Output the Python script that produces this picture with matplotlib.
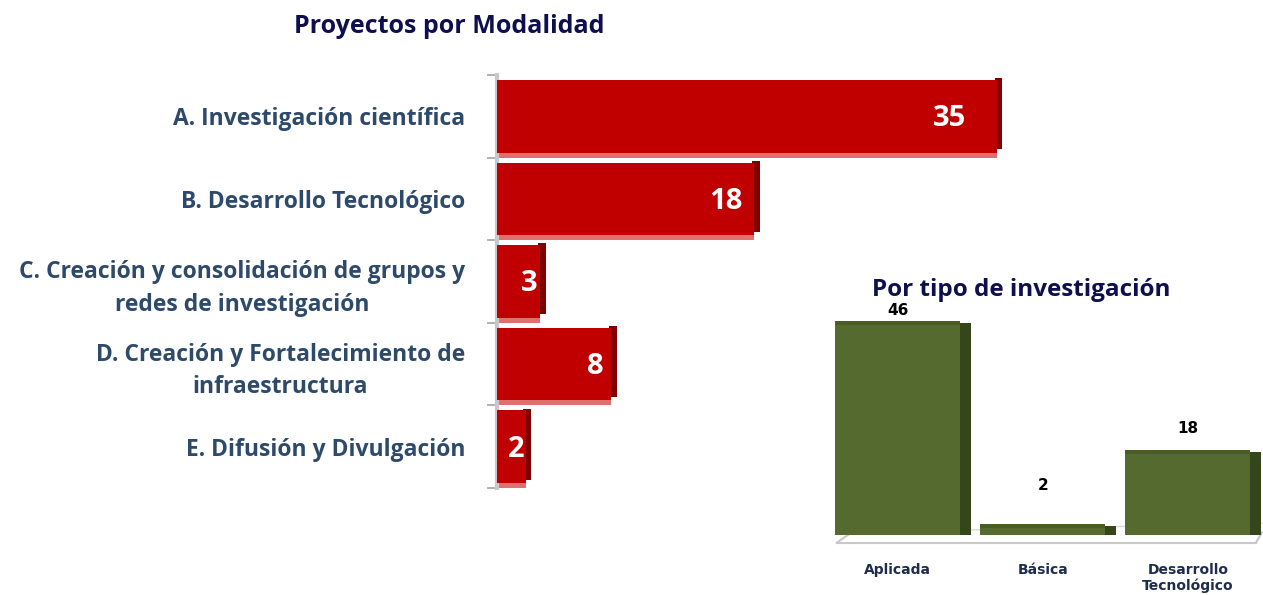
import matplotlib.pyplot as plt
import numpy as np

# data
modalidades = ["A. Investigación científica",
               "B. Desarrollo Tecnológico",
               "C. Creación y consolidación de grupos y\nredes de investigación",
               "D. Creación y Fortalecimiento de\ninfraestructura",
               "E. Difusión y Divulgación"]
proyectos = [35, 18, 3, 8, 2]

tipos = ["Aplicada", "Básica", "Desarrollo\nTecnológico"]
tipo_vals = [46, 2, 18]

plt.rcParams['font.family'] = ['Open Sans', 'DejaVu Sans']

fig = plt.figure(figsize=(12.63, 5.95), dpi=100)

# %% left chart
ax1 = fig.add_axes([0.3935, 0.18, 0.407, 0.694])
y = np.arange(len(proyectos))
vals = np.array(proyectos)
ax1.barh(y, vals, height=0.88, color="#c00000", zorder=3)
# darker side face and light bottom edge for the 3d look
ax1.barh(y - 0.03, 0.55, left=vals - 0.15, height=0.86, color="#800000", zorder=2)
ax1.barh(y + 0.47, vals, height=0.06, color="#e07070", zorder=2)
for yi, v in zip(y, vals):
    ax1.text(v - (0.5 + 0.08 * v), yi + 0.03, str(v), ha="center", va="center",
             color="white", fontsize=21, fontweight="bold", zorder=4)

ax1.set_xlim(0, 36)
ax1.set_ylim(4.5, -0.5)
ax1.set_yticks(y)
ax1.set_yticklabels(modalidades, fontsize=16.5, fontweight="bold", color="#2e4a6b",
                    multialignment="center", linespacing=1.45)
ax1.tick_params(axis="y", which="major", length=0, pad=23)
ax1.set_yticks(np.arange(-0.5, 5, 1), minor=True)
ax1.tick_params(axis="y", which="minor", length=7, color="#a6a6a6", width=1.2)
ax1.set_xticks([])
for s in ["top", "right", "bottom"]:
    ax1.spines[s].set_visible(False)
ax1.spines["left"].set_color("#c8c8c8")
ax1.spines["left"].set_linewidth(3)
fig.text(0.3555, 0.955, "Proyectos por Modalidad", ha="center", va="center",
         fontsize=18, fontweight="bold", color="#0f0f4f")

# %% right chart
ax2 = fig.add_axes([0.651, 0.101, 0.348, 0.395])
x = np.arange(len(tipo_vals))
tv = np.array(tipo_vals)
ax2.bar(x, tv, width=0.86, color="#556a2e", zorder=3)
ax2.bar(x + 0.46, tv + 0.3, width=0.09, bottom=-0.3, color="#35461a", zorder=2)
ax2.bar(x, 0.8, bottom=tv - 0.4, width=0.86, color="#4a5d25", zorder=4)
offsets = [1.0, 7.0, 3.5]
for xi, v, off in zip(x, tv, offsets):
    ax2.text(xi, v + off, str(v), ha="center", va="bottom", fontsize=11,
             fontweight="bold", color="black", family="DejaVu Sans")
ax2.set_xlim(-0.52, 2.51)
ax2.set_ylim(0, 51)
ax2.set_yticks([])
ax2.set_xticks(x)
ax2.set_xticklabels(tipos, fontsize=10, fontweight="bold", color="#1f2d4d",
                    family="DejaVu Sans")
ax2.tick_params(axis="x", length=0, pad=20)
for s in ax2.spines.values():
    s.set_visible(False)
# floor
ax2.plot([-0.42, 2.47], [-1.7, -1.7], color="#c8c8c8", lw=1.5, clip_on=False, zorder=1)
ax2.plot([-0.42, -0.32], [-1.7, 0.5], color="#c8c8c8", lw=1.5, clip_on=False, zorder=1)
ax2.plot([2.47, 2.51], [-1.7, 0.5], color="#c8c8c8", lw=1.5, clip_on=False, zorder=1)
ax2.plot([-0.32, 2.51], [0.5, 2.5], color="#d8d8d8", lw=1, clip_on=False, zorder=1)
fig.text(0.8085, 0.512, "Por tipo de investigación", ha="center", va="center",
         fontsize=17.5, fontweight="bold", color="#0f0f4f")

plt.savefig("out.png", dpi=100)
